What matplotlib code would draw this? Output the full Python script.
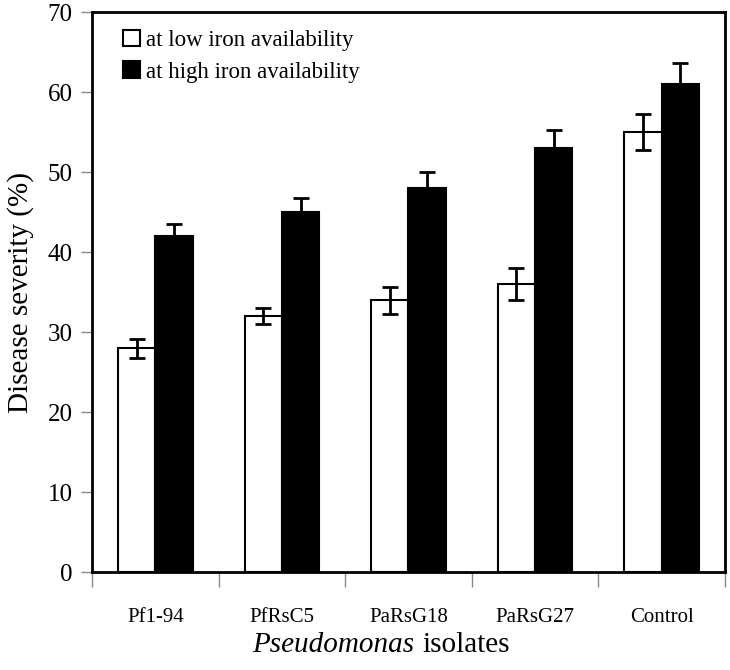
import matplotlib
matplotlib.use("Agg")
import matplotlib.pyplot as plt
import numpy as np

plt.rcParams['font.family'] = ['Liberation Serif', 'DejaVu Serif']

isolates = ["Pf1-94", "PfRsC5", "PaRsG18", "PaRsG27", "Control"]
low_iron = [28, 32, 34, 36, 55]
low_err = [1.2, 1.0, 1.7, 2.0, 2.3]
high_iron = [42, 45, 48, 53, 61]
high_err = [1.5, 1.7, 2.0, 2.2, 2.6]

x = np.arange(len(isolates))
w = 0.295

fig = plt.figure(figsize=(7.3, 6.7), dpi=100)
ax = fig.add_axes([0.126, 0.146, 0.867, 0.836])

ekw = dict(ecolor="black", elinewidth=2, capsize=6, capthick=2)
ax.bar(x - w / 2, low_iron, w, color="white", edgecolor="black", linewidth=1.5,
       yerr=low_err, error_kw=ekw, label="at low iron availability")
ax.bar(x + w / 2, high_iron, w, color="black", edgecolor="black", linewidth=1.5,
       yerr=high_err, error_kw=ekw, label="at high iron availability")

ax.set_xlim(-0.5, len(isolates) - 0.5)
ax.set_ylim(0, 70)
ax.set_yticks(range(0, 71, 10))
ax.tick_params(axis="y", labelsize=18, direction="out", length=8, width=1,
               color="#888888", pad=6)

# boundary ticks below the axis, labels centred between them
ax.set_xticks(np.arange(-0.5, len(isolates), 1))
ax.set_xticklabels([])
ax.tick_params(axis="x", which="major", direction="out", length=11, width=1, color="#888888")
ax.set_xticks(x, minor=True)
ax.set_xticklabels(isolates, minor=True)
ax.tick_params(axis="x", which="minor", length=0, pad=26, labelsize=15)

for s in ax.spines.values():
    s.set_linewidth(2)

ax.set_ylabel("Disease severity (%)", fontsize=21, labelpad=10)
fig.text(0.568, 0.027, "Pseudomonas", fontsize=21, style="italic", ha="right", va="baseline")
fig.text(0.579, 0.027, "isolates", fontsize=21, ha="left", va="baseline")

ax.legend(loc="upper left", bbox_to_anchor=(0.035, 0.985), frameon=False, fontsize=16.5,
          handlelength=0.75, handleheight=0.75, handletextpad=0.25, labelspacing=0.45,
          borderaxespad=0)

fig.savefig("out.png", dpi=100)
